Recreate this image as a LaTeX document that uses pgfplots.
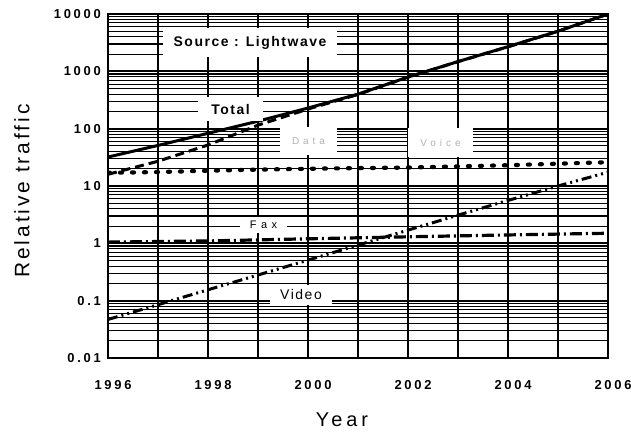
\documentclass[border=0pt]{standalone}
\usepackage{fontspec}
\setmainfont{Liberation Sans}
\usepackage{pgfplots}
\pgfplotsset{compat=1.18}
\newfontfamily\tickfont[LetterSpace=21]{Liberation Sans}
\newfontfamily\labfont[LetterSpace=11]{Liberation Sans}
\newfontfamily\axlabfont[LetterSpace=14]{Liberation Sans}
\newfontfamily\yearfont[LetterSpace=20]{Liberation Sans}
\newfontfamily\widefont[LetterSpace=40]{Liberation Sans}
\begin{document}
\begin{tikzpicture}
\path[use as bounding box] (-108bp,-75bp) rectangle (523bp,358bp);
\begin{axis}[
  at={(0,0)}, anchor=south west,
  scale only axis, width=500bp, height=344bp,
  xmin=1996, xmax=2006, ymode=log, ymin=0.01, ymax=10000,
  xtick={1996,1998,2000,2002,2004,2006},
  xticklabels={1996,1998,2000,2002,2004,2006},
  minor xtick={1997,1999,2001,2003,2005},
  ytick={0.01,0.1,1,10,100,1000,10000},
  yticklabels={0.01,0.1,1,10,100,1000,10000},
  minor ytick={0.02,0.03,0.04,0.05,0.06,0.07,0.08,0.09,
               0.2,0.3,0.4,0.5,0.6,0.7,0.8,0.9,
               2,3,4,5,6,7,8,9,20,30,40,50,60,70,80,90,
               200,300,400,500,600,700,800,900,
               2000,3000,4000,5000,6000,7000,8000,9000},
  grid=both,
  major x grid style={black, line width=1.5bp},
  minor x grid style={black, line width=1.5bp},
  major y grid style={black, line width=2.2bp},
  minor y grid style={black, line width=1.1bp},
  major tick length=0pt, minor tick length=0pt,
  axis line style={line width=1.8bp},
  xticklabel style={font=\fontsize{13}{15}\selectfont\tickfont\bfseries, anchor=center, yshift=-27bp, xshift=5bp},
  yticklabel style={font=\fontsize{13}{15}\selectfont\tickfont\bfseries, anchor=east, inner sep=0pt, xshift=-7bp},
  xlabel={Year},
  ylabel={Relative traffic},
  xlabel style={font=\fontsize{20}{23}\selectfont\yearfont, at={(axis description cs:0.468,-0.18)}, anchor=center},
  ylabel style={font=\fontsize{21}{24}\selectfont\axlabfont, at={(axis description cs:-0.172,0.4855)}, anchor=center},
]
% Total
\addplot[black, line width=3bp] coordinates {
 (1996,32) (1997,51) (1998,83) (1999,135) (2000,229) (2001,400)
 (2002,794) (2003,1480) (2004,2690) (2005,5010) (2006,10000)};
% Data
\addplot[black, line width=3bp, dash pattern=on 9bp off 5bp] coordinates {
 (1996,16) (1997,27) (1998,52) (1999,115) (2000,220) (2001,395)
 (2002,790) (2003,1475) (2004,2680) (2005,5000) (2006,9980)};
% Voice
\addplot[black, line width=4.2bp, line cap=round, dash pattern=on 2bp off 10bp] coordinates {
 (1996,17) (1997,17.5) (1998,18.5) (1999,19.3) (2000,20) (2001,20.5)
 (2002,21) (2003,22) (2004,23) (2005,24.5) (2006,26)};
% Fax
\addplot[black, line width=3.2bp, dash pattern=on 12bp off 4bp on 2bp off 4bp] coordinates {
 (1996,1.05) (1998,1.1) (2000,1.2) (2002,1.3) (2004,1.4) (2006,1.5)};
% Video
\addplot[black, line width=3bp, dash pattern=on 10bp off 4bp on 2bp off 4bp on 2bp off 4bp] coordinates {
 (1996,0.047) (1997,0.085) (1998,0.155) (1999,0.28) (2000,0.51) (2001,0.93)
 (2002,1.7) (2003,3.1) (2004,5.6) (2005,10) (2006,17.4)};
% labels
\node[fill=white, inner sep=0pt, minimum width=174bp, minimum height=29bp,
  font=\fontsize{14}{16}\selectfont\labfont\bfseries] at (axis cs:1998.84,3186) {Source : Lightwave};
\node[fill=white, inner sep=0pt, minimum width=65bp, minimum height=24bp,
  font=\fontsize{14}{16}\selectfont\labfont\bfseries] at (axis cs:1998.45,220) {Total};
\node[fill=white, inner sep=0pt, minimum width=57bp, minimum height=28bp, text=black!30,
  font=\fontsize{10}{12}\selectfont\widefont] at (axis cs:2000.01,61) {Data};
\node[fill=white, inner sep=0pt, minimum width=65bp, minimum height=29bp, text=black!30,
  font=\fontsize{10}{12}\selectfont\widefont] at (axis cs:2002.65,57.4) {Voice};
\node[fill=white, inner sep=0pt, minimum width=47bp, minimum height=16bp,
  font=\fontsize{11}{13}\selectfont\widefont] at (axis cs:1999.11,2.09) {Fax};
\node[fill=white, inner sep=0pt, minimum width=62bp, minimum height=20bp,
  font=\fontsize{14}{16}\selectfont\labfont] at (axis cs:1999.86,0.1256) {Video};
\end{axis}
\end{tikzpicture}
\end{document}
